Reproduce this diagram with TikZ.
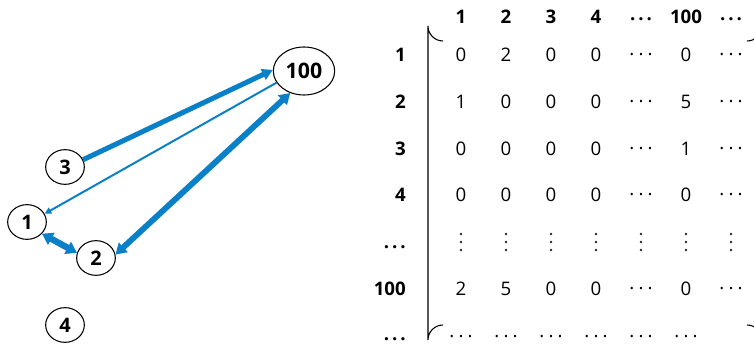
\documentclass[tikz,border=0pt]{standalone}
\usepackage{fontspec}
\setmainfont{Open Sans}
\usetikzlibrary{shapes.geometric,arrows.meta}
\definecolor{eblue}{HTML}{0A80C8}
\newcommand{\hdots}{.\hspace{3.2pt}.\hspace{3.2pt}.}
\newcommand{\bhdots}{.\hspace{2.2pt}.\hspace{2.2pt}.}
\begin{document}
\begin{tikzpicture}[x=0.75pt,y=-0.75pt,
  vtx/.style={ellipse,draw,line width=0.8pt,inner sep=0pt,minimum width=29pt,minimum height=26pt,font=\fontsize{15}{15}\selectfont\bfseries},
  bigvtx/.style={vtx,minimum width=46pt,minimum height=36pt,font=\fontsize{16}{16}\selectfont\bfseries},
  hdr/.style={font=\fontsize{14}{14}\selectfont\bfseries,inner sep=0pt},
  rowlab/.style={hdr,anchor=east},
  ent/.style={font=\fontsize{14}{14}\selectfont,inner sep=0pt},
  edge/.style={draw=eblue,line cap=butt},
  brk/.style={line width=0.8pt},
  dotmark/.style={circle,fill=black!85,inner sep=0pt,minimum size=2.2pt},
]
\useasboundingbox (0,0) rectangle (754,357);
\clip (0,0) rectangle (754,357);

% graph
\node[bigvtx] (n100) at (304,71) {100};
\node[vtx] (n3) at (65,167) {3};
\node[vtx] (n1) at (27,222) {1};
\node[vtx] (n2) at (96,258) {2};
\node[vtx] (n4) at (65,325) {4};

\draw[edge,line width=3.8pt,-{Triangle[length=8pt,width=8.5pt]}] (n3.22) -- (n100.178);
\draw[edge,line width=1.5pt,-{Triangle[length=5pt,width=5pt]}] (n100.203) -- (n1.25);
\draw[edge,line width=4.4pt,{Triangle[length=8pt,width=9.5pt]}-{Triangle[length=8pt,width=9.5pt]}] (n2.10) -- (n100.238);
\draw[edge,line width=4.8pt,{Triangle[length=8pt,width=10pt]}-{Triangle[length=8pt,width=10pt]}] (n1.322) -- (n2.165);

% column headers
\node[hdr] (c1) at (461,17) {1};
\node[hdr] (c2) at (506,17) {2};
\node[hdr] (c3) at (551,17) {3};
\node[hdr] (c4) at (596,17) {4};
\node[hdr] (c5) at (641,19) {\bhdots};
\node[hdr] (c6) at (686,17) {100};
\node[hdr] (c7) at (731,19) {\bhdots};

% row labels
\node[rowlab] (r1) at (406,55) {1};
\node[rowlab] (r2) at (406,102) {2};
\node[rowlab] (r3) at (406,149) {3};
\node[rowlab] (r4) at (406,195) {4};
\node[rowlab] (r5) at (406,247) {\bhdots};
\node[rowlab] (r6) at (406,289) {100};
\node[rowlab] (r7) at (406,339) {\bhdots};

% entries
\foreach \v [count=\i] in {0,2,0,0,\hdots,0,\hdots}
  \node[ent] (m1-\i) at (416+45*\i,55) {\v};
\foreach \v [count=\i] in {1,0,0,0,\hdots,5,\hdots}
  \node[ent] (m2-\i) at (416+45*\i,102) {\v};
\foreach \v [count=\i] in {0,0,0,0,\hdots,1,\hdots}
  \node[ent] (m3-\i) at (416+45*\i,149) {\v};
\foreach \v [count=\i] in {0,0,0,0,\hdots,0,\hdots}
  \node[ent] (m4-\i) at (416+45*\i,195) {\v};
\foreach \i in {1,...,7}{
  \node[dotmark] (m5-\i a) at (416+45*\i,234) {};
  \node[dotmark] (m5-\i b) at (416+45*\i,242) {};
  \node[dotmark] (m5-\i c) at (416+45*\i,250) {};
}
\foreach \v [count=\i] in {2,5,0,0,\hdots,0,\hdots}
  \node[ent] (m6-\i) at (416+45*\i,289) {\v};
\foreach \i in {1,...,6}
  \node[ent] (m7-\i) at (416+45*\i,337) {\hdots};

% bracket
\draw[brk] (443,41) arc[start angle=90,end angle=180,radius=15] -- (428,340)
  arc[start angle=180,end angle=270,radius=15];
\draw[brk] (747,41) arc[start angle=90,end angle=0,radius=15];
\draw[brk] (762,340) arc[start angle=0,end angle=-90,radius=15];
\end{tikzpicture}
\end{document}
